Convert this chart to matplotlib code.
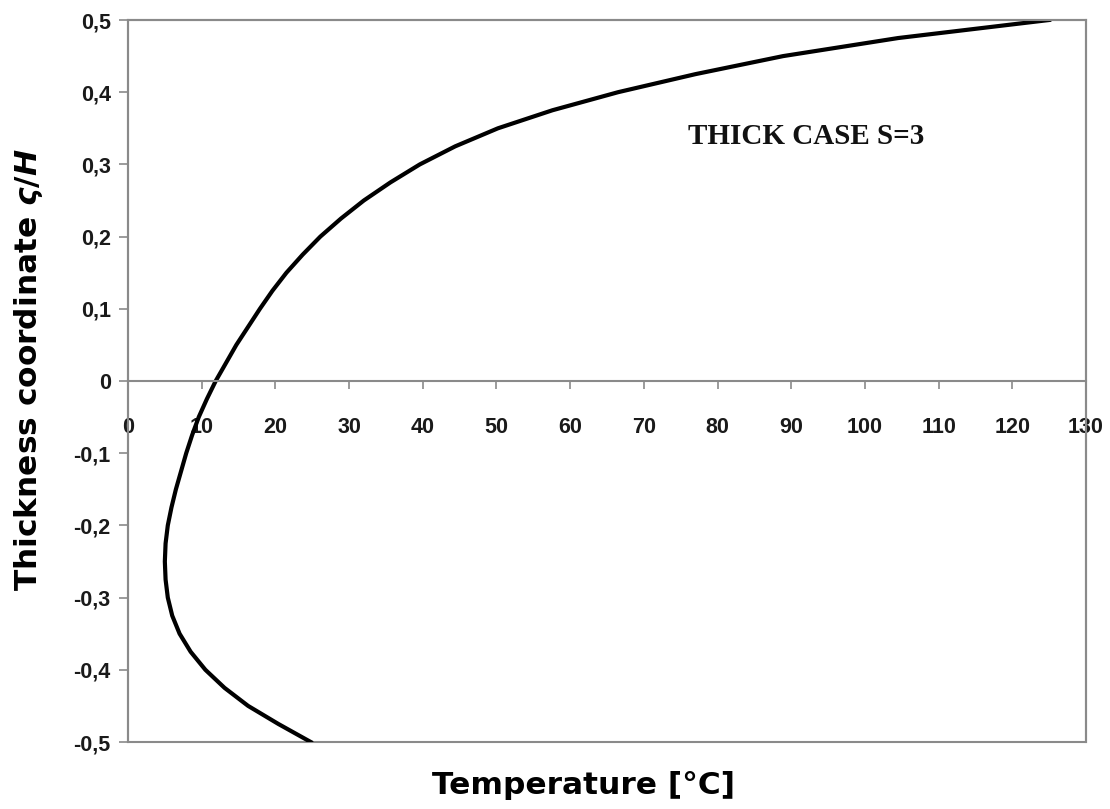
import numpy as np
import matplotlib
matplotlib.use("Agg")
import matplotlib.pyplot as plt
from matplotlib.ticker import FuncFormatter

# Data (temperature vs. thickness coordinate)
thickness = [-0.5, -0.475, -0.45, -0.425, -0.4, -0.375, -0.35, -0.325, -0.3,
             -0.275, -0.25, -0.225, -0.2, -0.175, -0.15, -0.125, -0.1, -0.075,
             -0.05, -0.025, 0.0, 0.025, 0.05, 0.075, 0.1, 0.125, 0.15, 0.175,
             0.2, 0.225, 0.25, 0.275, 0.3, 0.325, 0.35, 0.375, 0.4, 0.425, 0.45,
             0.475, 0.5]
temperature = [24.8, 20.4, 16.3, 13.1, 10.5, 8.5, 7.0, 6.0, 5.4, 5.1, 5.0, 5.1,
               5.4, 5.9, 6.5, 7.2, 7.9, 8.7, 9.6, 10.7, 11.9, 13.3, 14.7, 16.3,
               17.9, 19.6, 21.5, 23.7, 26.1, 28.9, 32.0, 35.6, 39.6, 44.4, 50.2,
               57.6, 66.5, 77.0, 88.9, 104.5, 125.0]
x_ticks = list(range(0, 131, 10))
y_ticks = [-0.5, -0.4, -0.3, -0.2, -0.1, 0.0, 0.1, 0.2, 0.3, 0.4, 0.5]
annotation = "THICK CASE S=3"

plt.rcParams['axes.unicode_minus'] = False
plt.rcParams['font.family'] = ['Liberation Sans', 'DejaVu Sans']
plt.rcParams['font.weight'] = 'bold'
plt.rcParams['mathtext.fontset'] = 'custom'
plt.rcParams['mathtext.it'] = 'DejaVu Sans:italic:bold'
plt.rcParams['mathtext.rm'] = 'DejaVu Sans:bold'

fig = plt.figure(figsize=(11.10, 8.09), dpi=100)
ax = fig.add_axes([128/1110, 1-742/809, (1086-128)/1110, (742-20)/809])

ax.plot(temperature, thickness, color='black', lw=3, solid_joinstyle='round')

ax.set_xlim(0, 130)
ax.set_ylim(-0.5, 0.5)

gray = '#8a8a8a'
for s in ax.spines.values():
    s.set_color(gray)
    s.set_linewidth(1.5)
ax.spines['bottom'].set_position(('data', 0))
ax.patch.set_edgecolor(gray)
ax.patch.set_linewidth(1.5)

ax.set_xticks(x_ticks)
ax.set_yticks(y_ticks)

def yfmt(v, pos):
    if abs(v) < 1e-9:
        return "0"
    return f"{v:.1f}".replace('.', ',')

ax.yaxis.set_major_formatter(FuncFormatter(yfmt))
ax.xaxis.set_major_formatter(FuncFormatter(lambda v, p: f"{int(round(v))}"))

ax.tick_params(axis='x', direction='out', length=6, width=1.2, color=gray,
               pad=20, labelcolor='#1a1a1a', labelsize=15.5)
ax.tick_params(axis='y', direction='out', length=6.5, width=1.2, color=gray,
               pad=6, labelcolor='#1a1a1a', labelsize=15.5)

ax.set_xlabel("Temperature [°C]", fontfamily='DejaVu Sans', fontweight='bold',
              fontsize=22.5, va='center')
ax.xaxis.set_label_coords((584-128)/958, (742-785)/722)

ax.set_ylabel(r"Thickness coordinate $\varsigma/H$", fontfamily='DejaVu Sans',
              fontweight='bold', fontsize=22.5, va='center')
ax.yaxis.set_label_coords((29-128)/958, (742-370)/722)

ax.text(76, 0.339, annotation, fontfamily='Liberation Serif', fontweight='bold',
        fontsize=21, va='center', ha='left', color='#111111')

fig.savefig("out.png", dpi=100)
